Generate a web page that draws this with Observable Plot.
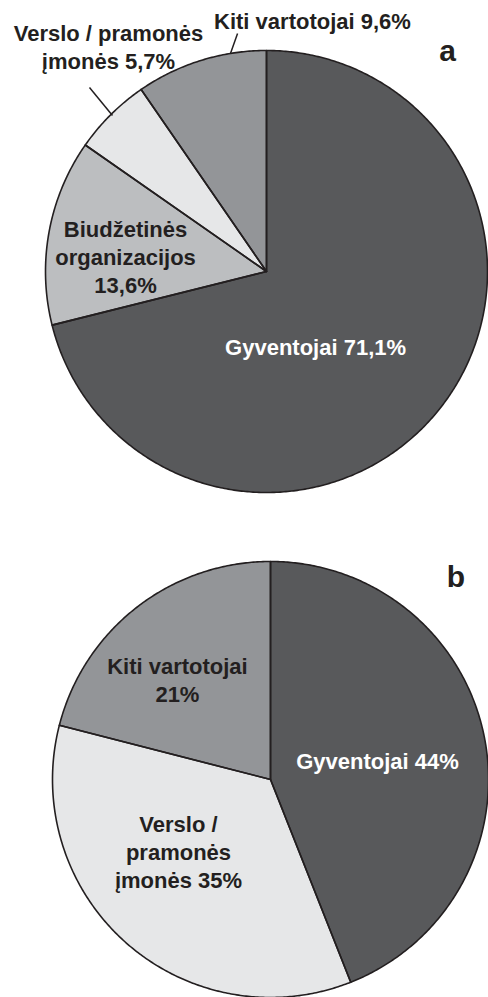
<!DOCTYPE html>
<html>
<head>
<meta charset="utf-8">
<script src="https://cdn.jsdelivr.net/npm/d3@7"></script>
<script src="https://cdn.jsdelivr.net/npm/@observablehq/plot@0.6"></script>
<style>
  body { margin: 0; background: #fff; }
  svg { display: block; }
</style>
</head>
<body>
<div id="chart"></div>
<script>
// ---- data ----
const categoriesA = ["Gyventojai", "Biudžetinės organizacijos", "Verslo / pramonės įmonės", "Kiti vartotojai"];
const valuesA = [71.1, 13.6, 5.7, 9.6];
const labelsA = ["Gyventojai 71,1%", "Biudžetinės\norganizacijos\n13,6%", "Verslo / pramonės\nįmonės 5,7%", "Kiti vartotojai 9,6%"];

const categoriesB = ["Gyventojai", "Verslo / pramonės įmonės", "Kiti vartotojai"];
const valuesB = [44, 35, 21];
const labelsB = ["Gyventojai 44%", "Verslo /\npramonės\nįmonės 35%", "Kiti vartotojai\n21%"];

const panelLetters = ["a", "b"];

// ---- layout (unit-radius coordinates) ----
const colorOf = {
  "Gyventojai": "#58595b",
  "Biudžetinės organizacijos": "#bcbec0",
  "Verslo / pramonės įmonės": "#e6e7e8",
  "Kiti vartotojai": "#939598"
};
const textColorOf = {"Gyventojai": "#ffffff"};
const INK = "#231f20";

const layoutA = {
  width: 488, height: 515, cx: 266, cy: 271, r: 221,
  labelPos: [[0.222, -0.339], [-0.638, 0.068], [-0.715, 1.020], [0.208, 1.136]],
  leaders: [[-0.801, 0.833, -0.697, 0.706], [-0.131, 1.077, -0.163, 0.986]],
  letterPos: [0.819, 0.994]
};
const layoutB = {
  width: 488, height: 482, cx: 270, cy: 264, r: 218,
  labelPos: [[0.491, 0.087], [-0.422, -0.330], [-0.427, 0.459]],
  leaders: [],
  letterPos: [0.851, 0.925]
};

function slicePolys(categories, values) {
  const arcs = d3.pie().sort(null).value(d => d)(values);
  return arcs.map((a, i) => {
    const pts = [{x: 0, y: 0}];
    const n = Math.max(2, Math.ceil((a.endAngle - a.startAngle) / (Math.PI / 360)));
    for (let k = 0; k <= n; k++) {
      const t = a.startAngle + (a.endAngle - a.startAngle) * k / n;
      pts.push({x: Math.sin(t), y: Math.cos(t)});
    }
    pts.push({x: 0, y: 0});
    return {category: categories[i], pts};
  });
}

function pie(categories, values, labels, L, letter) {
  const polys = slicePolys(categories, values);
  const marks = [];
  for (const p of polys) {
    marks.push(Plot.line(p.pts, {x: "x", y: "y", fill: colorOf[p.category], stroke: "none", curve: "linear"}));
  }
  for (const p of polys) {
    marks.push(Plot.line(p.pts, {x: "x", y: "y", stroke: INK, strokeWidth: 1.6, strokeLinejoin: "round", curve: "linear"}));
  }
  if (L.leaders.length) {
    marks.push(Plot.link(L.leaders, {x1: d => d[0], y1: d => d[1], x2: d => d[2], y2: d => d[3], stroke: INK, strokeWidth: 1.5}));
  }
  const labelData = labels.map((t, i) => ({t, cat: categories[i], x: L.labelPos[i][0], y: L.labelPos[i][1]}));
  marks.push(Plot.text(labelData, {
    x: "x", y: "y", text: "t",
    fill: d => textColorOf[d.cat] || INK,
    fontSize: 22, fontWeight: "bold", lineHeight: 1.27,
    textAnchor: "middle", lineAnchor: "middle"
  }));
  marks.push(Plot.text([letter], {
    x: () => L.letterPos[0], y: () => L.letterPos[1], text: d => d,
    fill: INK, fontSize: 30, fontWeight: "bold", textAnchor: "middle", lineAnchor: "middle"
  }));
  return Plot.plot({
    width: L.width, height: L.height,
    margin: 0,
    style: {fontFamily: "'Liberation Sans', Arial, Helvetica, sans-serif", background: "#fff"},
    x: {domain: [-L.cx / L.r, (L.width - L.cx) / L.r], range: [0, L.width], axis: null},
    y: {domain: [-(L.height - L.cy) / L.r, L.cy / L.r], range: [L.height, 0], axis: null},
    fill: {type: "identity"},
    marks
  });
}

const root = document.getElementById("chart");
root.append(pie(categoriesA, valuesA, labelsA, layoutA, panelLetters[0]));
root.append(pie(categoriesB, valuesB, labelsB, layoutB, panelLetters[1]));
</script>
</body>
</html>
